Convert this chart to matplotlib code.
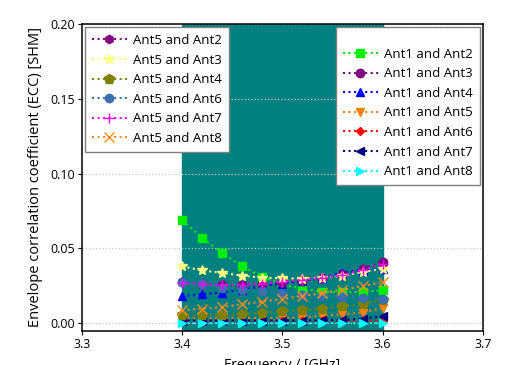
import numpy as np
import matplotlib
matplotlib.use("Agg")
from matplotlib import pyplot as plt

plt.rcParams['font.family'] = ['Open Sans', 'DejaVu Sans']

freq = [3.40, 3.42, 3.44, 3.46, 3.48, 3.50, 3.52, 3.54, 3.56, 3.58, 3.60]

# Ant1 pairs
ecc_1_2 = [0.069, 0.057, 0.047, 0.038, 0.031, 0.026, 0.023, 0.021, 0.0207, 0.021, 0.022]
ecc_1_3 = [0.0276, 0.026, 0.0253, 0.0258, 0.0264, 0.0276, 0.0287, 0.030, 0.0327, 0.0364, 0.041]
ecc_1_4 = [0.018, 0.0193, 0.0205, 0.0225, 0.0247, 0.0265, 0.028, 0.0304, 0.0338, 0.0350, 0.0365]
ecc_1_5 = [0.0033, 0.0033, 0.0033, 0.0034, 0.0035, 0.0036, 0.0038, 0.0049, 0.006, 0.0071, 0.0102]
ecc_1_6 = [0.0012, 0.0012, 0.0012, 0.0012, 0.0012, 0.0012, 0.0013, 0.0013, 0.0014, 0.0015, 0.0016]
ecc_1_7 = [0.0018, 0.0018, 0.0018, 0.0018, 0.0018, 0.0018, 0.0018, 0.0019, 0.0022, 0.003, 0.0047]
ecc_1_8 = [0.0, 0.0, 0.0, 0.0, 0.0, 0.0, 0.0, 0.0, 0.0, 0.0, 0.0]

# Ant5 pairs
ecc_5_2 = [0.0274, 0.0262, 0.0255, 0.0256, 0.0262, 0.0272, 0.0285, 0.0302, 0.0325, 0.0360, 0.0405]
ecc_5_3 = [0.038, 0.0353, 0.0336, 0.0318, 0.0304, 0.030, 0.0298, 0.0304, 0.0318, 0.0342, 0.0364]
ecc_5_4 = [0.0053, 0.0053, 0.0053, 0.006, 0.0071, 0.008, 0.0087, 0.0098, 0.0113, 0.0131, 0.0158]
ecc_5_6 = [0.0276, 0.026, 0.0238, 0.0225, 0.0215, 0.0198, 0.0187, 0.018, 0.0176, 0.0171, 0.0164]
ecc_5_7 = [0.027, 0.0262, 0.0256, 0.0257, 0.0265, 0.0278, 0.029, 0.0303, 0.0322, 0.0355, 0.0398]
ecc_5_8 = [0.0087, 0.0098, 0.0109, 0.0127, 0.0144, 0.0162, 0.0182, 0.0202, 0.0224, 0.0247, 0.0276]

fig, ax = plt.subplots(figsize=(5.17, 3.65), dpi=100)
fig.subplots_adjust(left=0.158, right=0.934, top=0.934, bottom=0.094)

ax.axvspan(3.4, 3.6, color='#008080', zorder=0)
ax.grid(axis='y', color='#c8c8c8', linestyle=':', linewidth=0.9, zorder=0.5)

ms = 5.5
lw = 1.5
left = []
right = []
right.append(ax.plot(freq, ecc_1_2, ':s', color='#00ee00', ms=ms, lw=lw, label='Ant1 and Ant2')[0])
right.append(ax.plot(freq, ecc_1_3, ':o', color='#800080', ms=ms + 0.5, lw=lw, label='Ant1 and Ant3')[0])
right.append(ax.plot(freq, ecc_1_4, ':^', color='#0000ff', ms=ms + 0.5, lw=lw, label='Ant1 and Ant4')[0])
right.append(ax.plot(freq, ecc_1_5, ':v', color='#ff7f0e', ms=ms + 0.5, lw=lw, label='Ant1 and Ant5')[0])
right.append(ax.plot(freq, ecc_1_6, ':D', color='#ff0000', ms=ms - 1, lw=lw, label='Ant1 and Ant6')[0])
right.append(ax.plot(freq, ecc_1_7, ':<', color='#000080', ms=ms + 0.5, lw=lw, label='Ant1 and Ant7')[0])
right.append(ax.plot(freq, ecc_1_8, ':>', color='#00ffff', ms=ms + 0.5, lw=lw, label='Ant1 and Ant8')[0])

left.append(ax.plot(freq, ecc_5_2, ':h', color='#800080', ms=ms + 0.5, lw=lw, label='Ant5 and Ant2')[0])
left.append(ax.plot(freq, ecc_5_3, ':*', color='#ffff80', ms=ms + 2, lw=lw, label='Ant5 and Ant3')[0])
left.append(ax.plot(freq, ecc_5_4, ':p', color='#808000', ms=ms + 1.5, lw=lw, label='Ant5 and Ant4')[0])
left.append(ax.plot(freq, ecc_5_6, ':o', color='#3a6fb0', ms=ms + 0.5, lw=lw, label='Ant5 and Ant6')[0])
left.append(ax.plot(freq, ecc_5_7, ':+', color='#ff00ff', ms=ms + 1, lw=lw, label='Ant5 and Ant7')[0])
left.append(ax.plot(freq, ecc_5_8, ':x', color='#ff8c1a', ms=ms + 1, lw=lw, label='Ant5 and Ant8')[0])

ax.set_xlim(3.3, 3.7)
ax.set_ylim(-0.005, 0.2)
ax.set_xticks([3.3, 3.4, 3.5, 3.6, 3.7])
ax.set_yticks([0.0, 0.05, 0.10, 0.15, 0.20])
ax.set_yticklabels(['0.00', '0.05', '0.10', '0.15', '0.20'])
ax.tick_params(labelsize=9, length=3, width=0.8, pad=2)
for s in ax.spines.values():
    s.set_linewidth(1.1)

ax.set_xlabel('Frequency / [GHz]', fontsize=10, labelpad=5)
ax.set_ylabel('Envelope correlation coefficient (ECC) [SHM]', fontsize=10.5, labelpad=5)

leg_kw = dict(fontsize=9.5, fancybox=False, edgecolor='#808080', framealpha=1,
              borderaxespad=0.25, labelspacing=0.5, handlelength=2.7,
              handletextpad=0.45, borderpad=0.5)
leg1 = ax.legend(handles=left, loc='upper left', **leg_kw)
ax.add_artist(leg1)
leg2 = ax.legend(handles=right, loc='upper right', title=' ', title_fontsize=6, **leg_kw)

fig.savefig('out.png', dpi=100)
